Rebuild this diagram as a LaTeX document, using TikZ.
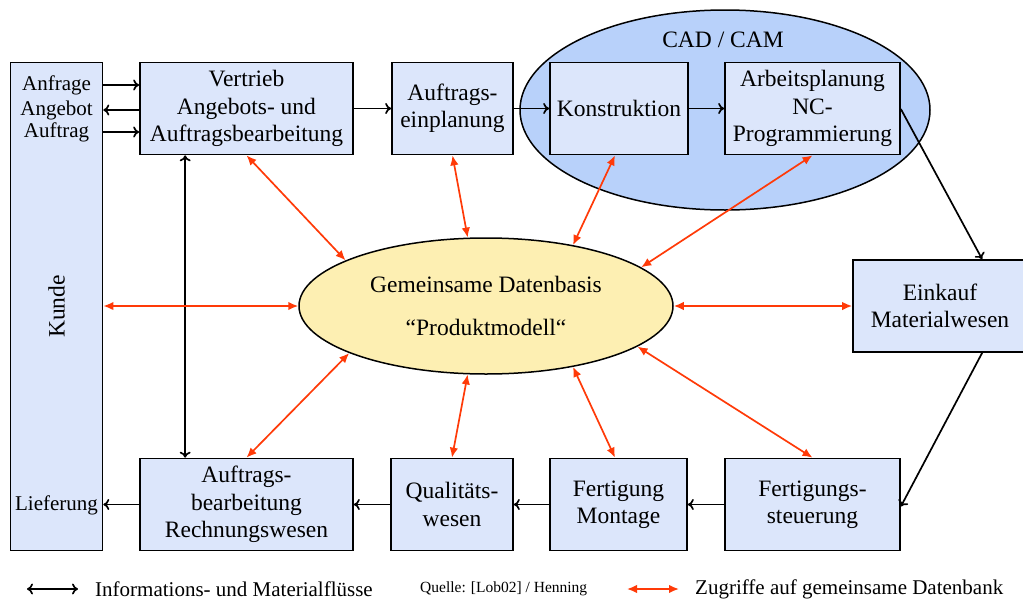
\documentclass[tikz,border=0pt]{standalone}
\usepackage{fontspec}
\setmainfont{Liberation Serif}
\usetikzlibrary{arrows.meta,shapes.geometric,calc}

\definecolor{boxfill}{RGB}{220,230,251}
\definecolor{cadfill}{RGB}{184,209,250}
\definecolor{dbfill}{RGB}{253,239,178}
\definecolor{access}{RGB}{255,58,8}

\tikzset{
  stepbox/.style={draw=black, line width=1.7pt, fill=boxfill, rectangle, align=center,
    inner sep=0pt, font=\fontsize{23.5}{27.5}\selectfont},
  sidelabel/.style={inner sep=0pt, font=\fontsize{21}{25}\selectfont},
  flow/.style={draw=black, line width=1.7pt, -{To[length=6pt,width=11pt]}},
  flowboth/.style={draw=black, line width=1.7pt, {To[length=6pt,width=11pt]}-{To[length=6pt,width=11pt]}},
  accessline/.style={draw=access, line width=1.7pt, {Latex[length=10pt,width=8.5pt]}-{Latex[length=10pt,width=8.5pt]}},
  legendtext/.style={anchor=west, inner sep=0pt, font=\fontsize{21}{25}\selectfont},
}

\begin{document}
\begin{tikzpicture}[x=1pt, y=-1pt]
\useasboundingbox (0,0) rectangle (1023,600);

% CAD / CAM group
\node[ellipse, draw=black, line width=1.5pt, fill=cadfill, minimum width=410pt,
      minimum height=200pt, inner sep=0pt] (cad) at (725,110) {};
\node[inner sep=0pt, font=\fontsize{23.5}{27.5}\selectfont] (cadlabel) at (723,40) {CAD / CAM};

% customer column
\node[stepbox, minimum width=92pt, minimum height=488pt] (kunde) at (56.5,306.5)
  {\rotatebox{90}{Kunde}};
\node[sidelabel] (anf) at (56.5,85) {Anfrage};
\node[sidelabel] (ang) at (56.5,110) {Angebot};
\node[sidelabel] (auf) at (56.5,132) {Auftrag};
\node[sidelabel] (lief) at (56.5,505) {Lieferung};

% upper row
\node[stepbox, minimum width=213pt, minimum height=92pt] (vert) at (246.5,108.5)
  {Vertrieb\\Angebots- und\\Auftragsbearbeitung};
\node[stepbox, minimum width=121pt, minimum height=92pt] (einpl) at (452.5,108.5)
  {Auftrags-\\einplanung};
\node[stepbox, minimum width=138pt, minimum height=92pt] (kon) at (619,108.5)
  {Konstruktion};
\node[stepbox, minimum width=175pt, minimum height=92pt] (arb) at (812.5,108.5)
  {Arbeitsplanung\\NC-\\Programmierung};

% right side
\node[stepbox, minimum width=174pt, minimum height=92pt] (eink) at (940,306)
  {Einkauf\\Materialwesen};

% lower row
\node[stepbox, minimum width=175pt, minimum height=92pt] (fst) at (812.5,504.5)
  {Fertigungs-\\steuerung};
\node[stepbox, minimum width=137pt, minimum height=92pt] (fert) at (618.5,504.5)
  {Fertigung\\Montage};
\node[stepbox, minimum width=122pt, minimum height=92pt] (qual) at (452,504.5)
  {Qualitäts-\\wesen};
\node[stepbox, minimum width=213pt, minimum height=92pt] (abr) at (246.5,504.5)
  {Auftrags-\\bearbeitung\\Rechnungswesen};

% shared database
\node[ellipse, draw=black, line width=1.5pt, fill=dbfill, minimum width=374pt,
      minimum height=136pt, inner sep=0pt, align=center,
      font=\fontsize{23.5}{27.5}\selectfont] (db) at (486,306)
  {Gemeinsame Datenbasis\\[15pt]“Produktmodell“};

% information and material flows
\draw[flow] (kunde.east |- anf) -- (vert.west |- anf);
\draw[flow] (vert.west |- ang) -- (kunde.east |- ang);
\draw[flow] (kunde.east |- auf) -- (vert.west |- auf);
\draw[flow] (vert.east) -- (einpl.west);
\draw[flow] (einpl.east) -- (kon.west);
\draw[flow] (kon.east) -- (arb.west);
\draw[flow] ([yshift=-0.5pt]arb.east) -- ([xshift=130pt]eink.north west);
\draw[flow] ([xshift=130pt]eink.south west) -- ([yshift=-2pt]fst.west -| fst.east);
\draw[flow] (fst.west) -- (fert.east);
\draw[flow] (fert.west) -- (qual.east);
\draw[flow] (qual.west) -- (abr.east);
\draw[flow] (abr.west) -- (kunde.east |- abr.west);
\draw[flowboth] ([xshift=46pt]vert.south west) -- ([xshift=46pt]abr.north west);

% database access
\draw[accessline] (kunde.east |- db.west) -- (db.west);
\draw[accessline] (db.east) -- (eink.west);
\draw[accessline] (vert.south) -- (db.162);
\draw[accessline] (einpl.south) -- (db.105);
\draw[accessline] ([xshift=-4pt]kon.south) -- (db.35);
\draw[accessline] (arb.south) -- (db.14);
\draw[accessline] (abr.north) -- (db.199);
\draw[accessline] (qual.north) -- (db.255);
\draw[accessline] ([xshift=-3.5pt]fert.north) -- (db.325);
\draw[accessline] (fst.north) -- (db.345.5);

% legend
\coordinate (lga) at (27,589);
\coordinate (lgb) at (78,589);
\draw[flowboth] (lga) -- (lgb);
\node[legendtext] (lgtext1) at (95,589) {Informations- und Materialflüsse};
\node[legendtext, font=\fontsize{15.5}{18}\selectfont] (src) at (420,589) {Quelle: [Lob02] / Henning};
\coordinate (lgc) at (627,589);
\coordinate (lgd) at (679,589);
\draw[accessline] (lgc) -- (lgd);
\node[legendtext] (lgtext2) at (695,589) {Zugriffe auf gemeinsame Datenbank};
\end{tikzpicture}
\end{document}
